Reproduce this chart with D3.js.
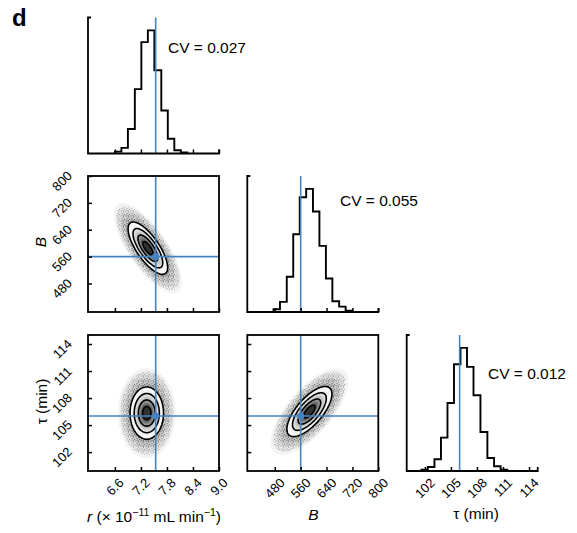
<!DOCTYPE html>
<html><head><meta charset="utf-8">
<script src="https://cdn.jsdelivr.net/npm/d3@7"></script>
<style>
body{margin:0;background:#fff}
text{font-family:"Liberation Sans",Arial,Helvetica,sans-serif;fill:#000}
</style>
</head><body>
<svg id="chart" width="577" height="533"></svg>
<script>
// ---------------- data ----------------
const rDomain = [5.98, 9.0];
const bDomain = [395, 800];
const tauDomain = [99.9, 115];
const rTicks = [6.6, 7.2, 7.8, 8.4, 9.0];
const bTicks = [480, 560, 640, 720, 800];
const tauTicks = [102, 105, 108, 111, 114];
const rTickLabels = ["6.6", "7.2", "7.8", "8.4", "9.0"];
const bTickLabels = ["480", "560", "640", "720", "800"];
const tauTickLabels = ["102", "105", "108", "111", "114"];

const rBinEdges = [6.60, 6.75, 6.90, 7.06, 7.21, 7.36, 7.51, 7.67, 7.82, 7.97, 8.12, 8.27];
const rCounts = [1.5, 4.6, 19.9, 52.3, 90.5, 100, 67.6, 34.9, 12.0, 2.7, 0.8];
const bBinEdges = [476, 496, 517, 537, 557, 577, 598, 618, 638, 658, 679, 699, 719];
const bCounts = [2.2, 8.2, 28.6, 63.2, 93.2, 100, 81.7, 53.7, 27.2, 8.7, 4.4, 1.1];
const tauBinEdges = [101.6, 102.33, 103.1, 103.85, 104.6, 105.35, 106.1, 106.85, 107.6, 108.4, 109.2, 109.97, 110.73, 111.5];
const tauCounts = [1.0, 3.3, 9.5, 27.1, 55.3, 86.7, 100, 84.6, 61.5, 31.7, 10.6, 3.8, 1.1];
const histMax = 110.5;

const truthValues = [7.54, 560, 106];
const cvLabels = ["CV = 0.027", "CV = 0.055", "CV = 0.012"];

// 2-D posterior summaries (x variable index, y variable index)
const pairX = [0, 0, 1];
const pairY = [1, 2, 2];
const pairCenterX = [7.36, 7.335, 587];
const pairCenterY = [585, 106.33, 106.5];
const pairSdX = [0.228, 0.193, 34.8];
const pairSdY = [39.0, 1.45, 1.39];
const pairRho = [-0.74, 0.0, 0.70];
const sigmaLevels = [0.5, 1.0, 1.5, 2.0];

// ---------------- layout ----------------
const COLS = [88, 247.3, 406.7];
const ROWS = [17.5, 176, 335];
const W = 131, H = 136;
const BLUE = "#4682c0";
const TICKFS = 13;

const domains = [rDomain, bDomain, tauDomain];
const ticks = [rTicks, bTicks, tauTicks];
const tickLabels = [rTickLabels, bTickLabels, tauTickLabels];
const binEdges = [rBinEdges, bBinEdges, tauBinEdges];
const counts = [rCounts, bCounts, tauCounts];

const xScale = domains.map((d, i) => d3.scaleLinear().domain(d).range([COLS[i], COLS[i] + W]));
const yScale = domains.map((d, i) => d3.scaleLinear().domain(d).range([ROWS[i] + H, ROWS[i]]));

const svg = d3.select("#chart");
const defs = svg.append("defs");

// speckle pattern mimicking the scattered samples
const pat = defs.append("pattern").attr("id", "speck").attr("patternUnits", "userSpaceOnUse")
  .attr("width", 5).attr("height", 5);
[[0.5, 0.5], [3, 1.5], [1.5, 3.2], [4, 4], [2.6, 0.2]].forEach(d =>
  pat.append("rect").attr("x", d[0]).attr("y", d[1]).attr("width", 1).attr("height", 1).attr("fill", "#555"));

function bottomTicks(g, scale, values, y) {
  g.append("g").attr("transform", `translate(0,${y})`)
    .call(d3.axisBottom(scale).tickValues(values).tickSizeInner(-4).tickSizeOuter(0).tickFormat(""))
    .call(a => a.select(".domain").remove())
    .call(a => a.selectAll("line").attr("stroke", "#000").attr("stroke-width", 1.5));
}
function leftTicks(g, scale, values, x) {
  g.append("g").attr("transform", `translate(${x},0)`)
    .call(d3.axisLeft(scale).tickValues(values).tickSizeInner(-4).tickSizeOuter(0).tickFormat(""))
    .call(a => a.select(".domain").remove())
    .call(a => a.selectAll("line").attr("stroke", "#000").attr("stroke-width", 1.5));
}

function xTickLabels(i, yBottom) {
  const g = svg.append("g");
  ticks[i].forEach((t, k) => {
    const tx = g.append("text").attr("font-size", TICKFS).attr("text-anchor", "middle")
      .attr("dy", "0.35em").text(tickLabels[i][k]);
    const w = tx.node().getComputedTextLength();
    const h = TICKFS * 0.72;
    const half = (w + h) * 0.7071 / 2;
    tx.attr("transform", `translate(${xScale[i](t)},${yBottom + 6 + half}) rotate(-45)`);
  });
}
function yTickLabels(j, xLeft) {
  const g = svg.append("g");
  ticks[j].forEach((t, k) => {
    const tx = g.append("text").attr("font-size", TICKFS).attr("text-anchor", "middle")
      .attr("dy", "0.35em").text(tickLabels[j][k]);
    const w = tx.node().getComputedTextLength();
    const h = TICKFS * 0.72;
    const half = (w + h) * 0.7071 / 2;
    tx.attr("transform", `translate(${xLeft - 15 - half},${yScale[j](t) + 5}) rotate(-45)`);
  });
}

// ---------------- diagonal histograms ----------------
const cvPos = [[80, 35], [92.7, 30], [81.3, 44]];
for (let i = 0; i < 3; i++) {
  const x = xScale[i];
  const y = d3.scaleLinear().domain([0, histMax]).range([ROWS[i] + H, ROWS[i]]);
  const e = binEdges[i], c = counts[i];
  const pts = [[e[0], 0]];
  c.forEach((v, k) => { pts.push([e[k], v]); pts.push([e[k + 1], v]); });
  pts.push([e[e.length - 1], 0]);
  const g = svg.append("g");
  g.append("path").attr("d", d3.line().x(d => x(d[0])).y(d => y(d[1]))(pts))
    .attr("fill", "none").attr("stroke", "#000").attr("stroke-width", 1.9);
  g.append("line").attr("x1", x(truthValues[i])).attr("x2", x(truthValues[i]))
    .attr("y1", ROWS[i]).attr("y2", ROWS[i] + H).attr("stroke", BLUE).attr("stroke-width", 1.6);
  bottomTicks(g, x, ticks[i], ROWS[i] + H);
  g.append("path").attr("d", `M${COLS[i] + 3},${ROWS[i]}H${COLS[i]}V${ROWS[i] + H}H${COLS[i] + W}V${ROWS[i] + H - 4}`)
    .attr("fill", "none").attr("stroke", "#000").attr("stroke-width", 1.8);
  g.append("text").attr("x", COLS[i] + cvPos[i][0]).attr("y", ROWS[i] + cvPos[i][1])
    .attr("font-size", 15.5).text(cvLabels[i]);
}

// ---------------- 2-D panels ----------------
function ellipsePts(p, m) {
  const pts = [];
  const r = pairRho[p], s = Math.sqrt(1 - r * r);
  for (let a = 0; a <= 96; a++) {
    const th = a / 96 * 2 * Math.PI;
    pts.push([pairCenterX[p] + m * pairSdX[p] * Math.cos(th),
              pairCenterY[p] + m * pairSdY[p] * (r * Math.cos(th) + s * Math.sin(th))]);
  }
  return pts;
}
for (let p = 0; p < 3; p++) {
  const xi = pairX[p], yi = pairY[p];
  const x = xScale[xi], y = yScale[yi];
  const x0 = COLS[xi], y0 = ROWS[yi];
  const line = d3.line().x(d => x(d[0])).y(d => y(d[1])).curve(d3.curveLinearClosed);
  defs.append("clipPath").attr("id", "clip" + p).append("rect")
    .attr("x", x0).attr("y", y0).attr("width", W).attr("height", H);
  const g = svg.append("g").attr("clip-path", `url(#clip${p})`);
  // cloud of samples
  [3.45, 3.15, 2.9, 2.65, 2.45, 2.25].forEach(m => {
    g.append("path").attr("d", line(ellipsePts(p, m))).attr("fill", "#444").attr("fill-opacity", 0.065);
  });
  [3.2, 2.7, 2.3].forEach(m => {
    g.append("path").attr("d", line(ellipsePts(p, m))).attr("fill", "url(#speck)").attr("fill-opacity", 0.5);
  });
  // density shading inside outer contour
  for (let m = 2.0; m > 0.05; m -= 0.1) {
    const v = 1 - Math.exp(-m * m / 2);
    const gv = Math.max(50, Math.round(255 * v * (2 - v)));
    g.append("path").attr("d", line(ellipsePts(p, m))).attr("fill", `rgb(${gv},${gv},${gv})`);
  }
  sigmaLevels.forEach(m => {
    g.append("path").attr("d", line(ellipsePts(p, m))).attr("fill", "none")
      .attr("stroke", "#000").attr("stroke-width", 1.6);
  });
  g.append("line").attr("x1", x(truthValues[xi])).attr("x2", x(truthValues[xi]))
    .attr("y1", y0).attr("y2", y0 + H).attr("stroke", BLUE).attr("stroke-width", 1.6);
  g.append("line").attr("x1", x0).attr("x2", x0 + W)
    .attr("y1", y(truthValues[yi])).attr("y2", y(truthValues[yi])).attr("stroke", BLUE).attr("stroke-width", 1.6);
  g.append("circle").attr("cx", x(truthValues[xi])).attr("cy", y(truthValues[yi])).attr("r", 3.6).attr("fill", BLUE);
  const ga = svg.append("g");
  bottomTicks(ga, x, ticks[xi], y0 + H);
  leftTicks(ga, y, ticks[yi], x0);
  ga.append("rect").attr("x", x0).attr("y", y0).attr("width", W).attr("height", H)
    .attr("fill", "none").attr("stroke", "#000").attr("stroke-width", 1.8);
}

for (let i = 0; i < 3; i++) xTickLabels(i, ROWS[2] + H);
yTickLabels(1, COLS[0]);
yTickLabels(2, COLS[0]);

// axis titles
const rl = svg.append("text").attr("x", 154).attr("y", 522).attr("font-size", 15.5).attr("text-anchor", "middle");
rl.append("tspan").attr("font-style", "italic").text("r");
rl.append("tspan").text(" (× 10");
rl.append("tspan").attr("font-size", 10.5).attr("dy", -6).text("−11");
rl.append("tspan").attr("dy", 6).text(" mL min");
rl.append("tspan").attr("font-size", 10.5).attr("dy", -6).text("−1");
rl.append("tspan").attr("dy", 6).text(")");

svg.append("text").attr("x", 313.5).attr("y", 520).attr("font-size", 15.5).attr("font-style", "italic")
  .attr("text-anchor", "middle").text("B");
svg.append("text").attr("x", 476).attr("y", 518.5).attr("font-size", 15.5)
  .attr("text-anchor", "middle").text("τ (min)");

svg.append("text").attr("transform", "translate(46,242) rotate(-90)").attr("font-size", 15.5)
  .attr("font-style", "italic").attr("text-anchor", "middle").text("B");
svg.append("text").attr("transform", "translate(47,401.5) rotate(-90)").attr("font-size", 15.5)
  .attr("text-anchor", "middle").text("τ (min)");

svg.append("text").attr("x", 12).attr("y", 26).attr("font-size", 24).attr("font-weight", "bold").text("d");
</script>
</body></html>
